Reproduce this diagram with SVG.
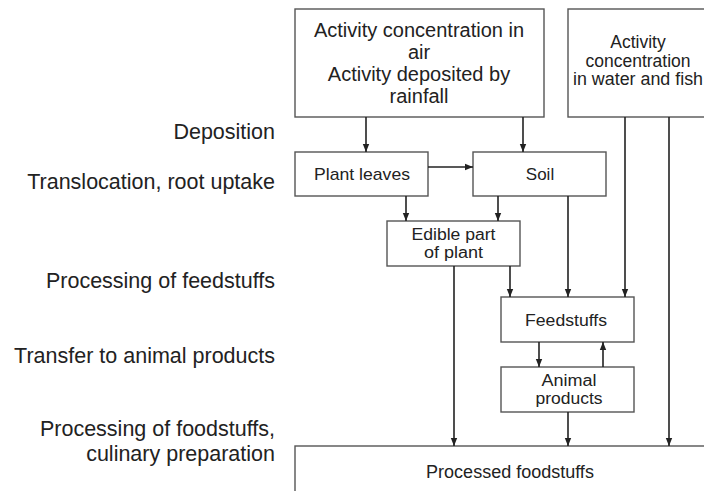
<svg xmlns="http://www.w3.org/2000/svg" width="704" height="491" viewBox="0 0 704 491">
  <style>
    .box { fill: #ffffff; stroke: #555555; stroke-width: 1.4; }
    .t { font-family: "Liberation Sans", Arial, sans-serif; fill: #222222; text-anchor: middle; }
    .lbl { font-family: "Liberation Sans", Arial, sans-serif; fill: #222222; text-anchor: end; font-size: 21.5px; }
    .c { stroke: #222222; stroke-width: 1.6; fill: none; marker-end: url(#ah); }
  </style>
  <defs>
    <marker id="ah" viewBox="0 0 8 8" refX="8" refY="4" markerWidth="8" markerHeight="8" markerUnits="userSpaceOnUse" orient="auto">
      <path d="M0,0.8 L8,4 L0,7.2 Z" fill="#222222"/>
    </marker>
  </defs>
  <rect width="704" height="491" fill="#ffffff"/>

  <g id="labels">
    <text class="lbl" x="275" y="139">Deposition</text>
    <text class="lbl" x="275" y="189">Translocation, root uptake</text>
    <text class="lbl" x="275" y="288">Processing of feedstuffs</text>
    <text class="lbl" x="275" y="363">Transfer to animal products</text>
    <text class="lbl" x="275" y="436">Processing of foodstuffs,</text>
    <text class="lbl" x="275" y="461">culinary preparation</text>
  </g>

  <g id="air">
    <rect class="box" x="295" y="9" width="249" height="108"/>
    <text class="t" font-size="20" x="419" y="37">Activity concentration in</text>
    <text class="t" font-size="20" x="419" y="59">air</text>
    <text class="t" font-size="20" x="419" y="81">Activity deposited by</text>
    <text class="t" font-size="20" x="419" y="103">rainfall</text>
  </g>

  <g id="water">
    <rect class="box" x="568" y="9" width="142" height="108"/>
    <text class="t" font-size="17.5" x="638" y="48">Activity</text>
    <text class="t" font-size="17.5" x="638" y="66.5">concentration</text>
    <text class="t" font-size="17.5" x="638" y="85" textLength="130" lengthAdjust="spacingAndGlyphs">in water and fish</text>
  </g>

  <g id="leaves">
    <rect class="box" x="295" y="152" width="133" height="44"/>
    <text class="t" font-size="17" x="362" y="180" textLength="96" lengthAdjust="spacingAndGlyphs">Plant leaves</text>
  </g>

  <g id="soil">
    <rect class="box" x="473" y="152" width="133" height="44"/>
    <text class="t" font-size="17" x="540" y="180">Soil</text>
  </g>

  <g id="edible">
    <rect class="box" x="387" y="221" width="133" height="45"/>
    <text class="t" font-size="16" x="453.5" y="239.5" textLength="84" lengthAdjust="spacingAndGlyphs">Edible part</text>
    <text class="t" font-size="16" x="453.5" y="257.5" textLength="59" lengthAdjust="spacingAndGlyphs">of plant</text>
  </g>

  <g id="feedstuffs">
    <rect class="box" x="501" y="297" width="133" height="45"/>
    <text class="t" font-size="17" x="566" y="326" textLength="82" lengthAdjust="spacingAndGlyphs">Feedstuffs</text>
  </g>

  <g id="animal">
    <rect class="box" x="501" y="367" width="133" height="45"/>
    <text class="t" font-size="16" x="569" y="385.5" textLength="55" lengthAdjust="spacingAndGlyphs">Animal</text>
    <text class="t" font-size="16" x="569" y="403.5" textLength="67" lengthAdjust="spacingAndGlyphs">products</text>
  </g>

  <g id="processed">
    <rect class="box" x="295" y="446" width="425" height="60"/>
    <text class="t" font-size="18" x="510" y="478">Processed foodstuffs</text>
  </g>

  <g id="connectors">
    <line class="c" x1="366" y1="117" x2="366" y2="152"/>
    <line class="c" x1="523" y1="117" x2="523" y2="152"/>
    <line class="c" x1="428" y1="167" x2="473" y2="167"/>
    <line class="c" x1="406" y1="196" x2="406" y2="221"/>
    <line class="c" x1="498" y1="196" x2="498" y2="221"/>
    <line class="c" x1="568" y1="196" x2="568" y2="297"/>
    <line class="c" x1="510" y1="266" x2="510" y2="297"/>
    <line class="c" x1="454" y1="266" x2="454" y2="446"/>
    <line class="c" x1="625" y1="117" x2="625" y2="297"/>
    <line class="c" x1="669" y1="117" x2="669" y2="446"/>
    <line class="c" x1="539" y1="342" x2="539" y2="367"/>
    <line class="c" x1="603" y1="367" x2="603" y2="342"/>
    <line class="c" x1="568" y1="412" x2="568" y2="446"/>
  </g>
</svg>
